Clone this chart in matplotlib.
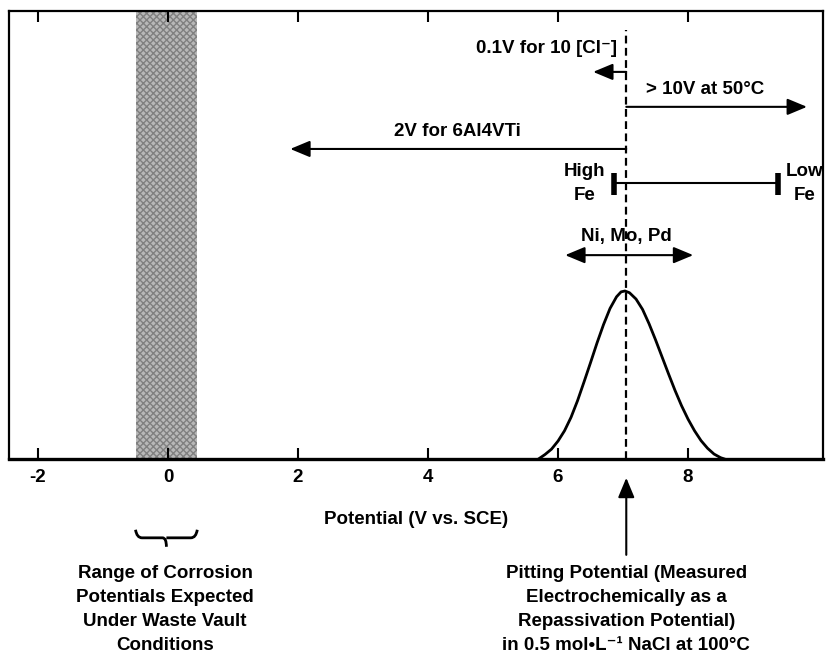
import matplotlib
matplotlib.use("Agg")
import matplotlib.pyplot as plt
from matplotlib.path import Path
from matplotlib.patches import PathPatch

plt.rcParams['font.family'] = ['Liberation Sans', 'DejaVu Sans']
plt.rcParams['font.weight'] = 'bold'

# Pitting potential distribution (V vs. SCE, relative frequency)
curve_v = [5.70, 5.80, 5.90, 6.00, 6.10, 6.20, 6.30, 6.40, 6.50, 6.60, 6.70, 6.80,
           6.90, 6.97, 7.03, 7.10, 7.20, 7.30, 7.40, 7.50, 7.60, 7.70, 7.80, 7.90,
           8.00, 8.10, 8.20, 8.30, 8.40, 8.50, 8.56]
curve_f = [0.000, 0.010, 0.022, 0.040, 0.063, 0.093, 0.130, 0.172, 0.215, 0.259, 0.300, 0.336,
           0.362, 0.373, 0.375, 0.371, 0.357, 0.334, 0.302, 0.266, 0.228, 0.190, 0.153, 0.119,
           0.089, 0.063, 0.041, 0.024, 0.011, 0.003, 0.000]

pitting_v = 7.05
corrosion_range = [-0.5, 0.45]
fe_range = [6.86, 9.38]
alloy_range = [6.11, 8.08]
chloride_shift = 6.54
temp_shift = 9.83
ti_shift = 1.88
xticks = [-2, 0, 2, 4, 6, 8]

fig = plt.figure(figsize=(8.29, 6.57), dpi=100)
ax = fig.add_axes([0.0109, 0.3014, 0.9819, 0.6819])
ax.set_xlim(-2.446, 10.077)
ax.set_ylim(0, 1)

# corrosion potential band
ax.axvspan(corrosion_range[0], corrosion_range[1], facecolor='#b8b8b8',
           hatch='xxxxx', edgecolor='#808080', lw=0)

# distribution curve
ax.plot(curve_v, curve_f, color='black', lw=2, solid_joinstyle='round')

# pitting potential marker
ax.plot([pitting_v, pitting_v], [0, 0.958], color='black', lw=1.6,
        linestyle=(0, (3.5, 2)))

fs = 13.5
arrow_style = dict(arrowstyle='-|>,head_length=0.6,head_width=0.25', lw=1.5,
                   color='black', mutation_scale=20, shrinkA=0, shrinkB=0)
both_style = dict(arrow_style, arrowstyle='<|-|>,head_length=0.6,head_width=0.25')


def arrow(x0, y0, x1, y1, style=arrow_style):
    ax.annotate('', xy=(x1, y1), xytext=(x0, y0), xycoords='data',
                arrowprops=style, annotation_clip=False)


ax.text(6.91, 0.917, '0.1V for 10 [Cl⁻]', ha='right', va='center', fontsize=fs)
arrow(pitting_v, 0.864, chloride_shift, 0.864)

ax.text(7.35, 0.824, '> 10V at 50°C', ha='left', va='center', fontsize=fs)
arrow(pitting_v, 0.786, temp_shift, 0.786)

ax.text(4.45, 0.730, '2V for 6Al4VTi', ha='center', va='center', fontsize=fs)
arrow(pitting_v, 0.692, ti_shift, 0.692)

# iron content range
ax.plot(fe_range, [0.616, 0.616], color='black', lw=1.5)
for xb in fe_range:
    ax.plot([xb, xb], [0.589, 0.638], color='black', lw=4, solid_capstyle='butt')
ax.text(6.41, 0.641, 'High', ha='center', va='center', fontsize=fs)
ax.text(6.41, 0.587, 'Fe', ha='center', va='center', fontsize=fs)
ax.text(9.80, 0.641, 'Low', ha='center', va='center', fontsize=fs, clip_on=False)
ax.text(9.80, 0.587, 'Fe', ha='center', va='center', fontsize=fs, clip_on=False)

ax.text(pitting_v, 0.496, 'Ni, Mo, Pd', ha='center', va='center', fontsize=fs)
arrow(alloy_range[0], 0.455, alloy_range[1], 0.455, both_style)

# axis styling
ax.set_yticks([])
ax.set_xticks(xticks)
ax.set_xticklabels([str(t) for t in xticks])
ax.tick_params(axis='x', direction='in', top=True, length=8, width=1.5,
               labelsize=fs, pad=7)
for side in ['left', 'right', 'top']:
    ax.spines[side].set_linewidth(1.6)
ax.spines['bottom'].set_linewidth(2.4)
ax.set_xlabel('Potential (V vs. SCE)', fontsize=fs, fontweight='bold', labelpad=18)

# notes under the axis
arrow(pitting_v, -0.214, pitting_v, -0.042)
ax.text(pitting_v, -0.336,
        'Pitting Potential (Measured\nElectrochemically as a\nRepassivation Potential)\nin 0.5 mol•L⁻¹ NaCl at 100°C',
        ha='center', va='center', fontsize=fs, linespacing=1.55, clip_on=False)

# brace under the corrosion band
x0, x1 = corrosion_range
xc = (x0 + x1) / 2
yt, ym, yb = -0.158, -0.176, -0.196
verts = [(x0, yt), (x0 + 0.02, ym), (x0 + 0.10, ym), (xc - 0.06, ym), (xc, ym), (xc, yb),
         (xc, ym), (xc + 0.06, ym), (x1 - 0.10, ym), (x1 - 0.02, ym), (x1, yt)]
codes = [Path.MOVETO, Path.CURVE3, Path.CURVE3, Path.LINETO, Path.CURVE3, Path.CURVE3,
         Path.MOVETO, Path.LINETO, Path.LINETO, Path.CURVE3, Path.CURVE3]
ax.add_patch(PathPatch(Path(verts, codes), fill=False, lw=2, clip_on=False))
ax.text(xc - 0.02, -0.336,
        'Range of Corrosion\nPotentials Expected\nUnder Waste Vault\nConditions',
        ha='center', va='center', fontsize=fs, linespacing=1.55, clip_on=False)

fig.savefig('out.png', dpi=100)
